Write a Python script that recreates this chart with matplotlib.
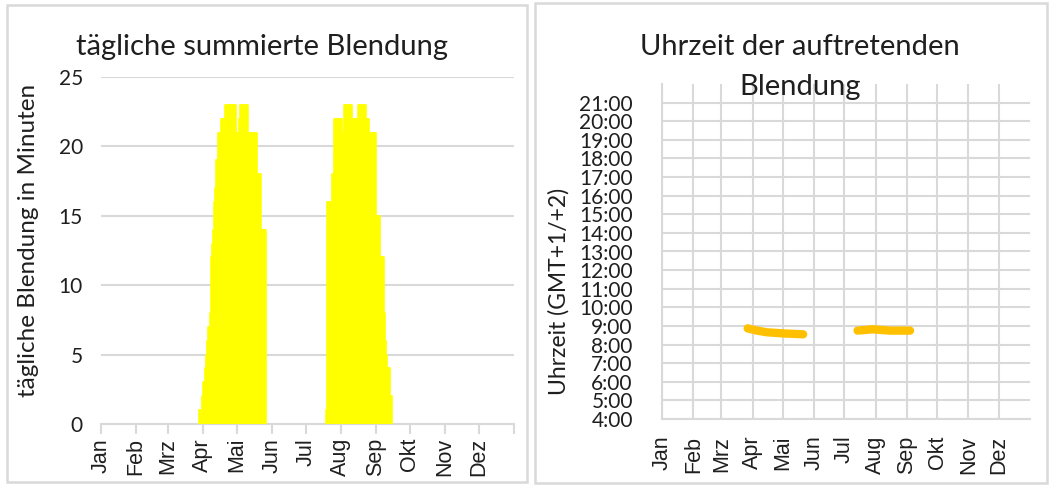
import numpy as np
import matplotlib
matplotlib.use("Agg")
import matplotlib.pyplot as plt
from matplotlib.patches import Rectangle

plt.rcParams['font.family'] = ['Lato', 'DejaVu Sans']

#%% Daten

MONATE = ['Jan', 'Feb', 'Mrz', 'Apr', 'Mai', 'Jun', 'Jul', 'Aug', 'Sep', 'Okt', 'Nov', 'Dez']
MONAT_START = [0, 31, 59, 90, 120, 151, 181, 212, 243, 273, 304, 334]

# taegliche Blendung in Minuten (Fruehjahr ab Tag 87, Spaetsommer ab Tag 199)
start_fruehjahr = 87
blendung_fruehjahr = [1, 1, 2, 3, 3, 4, 5, 6, 7, 8, 12, 13, 14, 16, 17, 19, 21, 21, 21, 22, 22, 22, 22,
                      23, 23, 23, 23, 23, 23, 23, 23, 23, 21, 21, 21, 22, 23, 23, 23, 23, 23, 23, 23,
                      20, 21, 21, 21, 21, 21, 21, 21, 18, 18, 18, 14, 14, 14, 14, 14]
start_sommer = 199
blendung_sommer = [1, 16, 16, 16, 16, 18, 18, 22, 22, 22, 22, 22, 22, 22, 21, 21,
                   23, 23, 23, 23, 23, 23, 23, 22, 22, 22, 22, 22, 23, 23, 23, 23, 23, 23, 23,
                   22, 22, 22, 21, 21, 21, 21, 21, 21, 15, 15, 15, 15, 12, 12, 12,
                   8, 6, 5, 4, 4, 2, 2]

# Uhrzeit der Blendung (Stunden)
tage_zeit_1 = [85, 94, 104, 120, 140]
uhrzeit_1 = [8.87, 8.75, 8.66, 8.60, 8.55]
tage_zeit_2 = [194, 209, 226, 246]
uhrzeit_2 = [8.75, 8.82, 8.75, 8.75]

STUNDEN = list(range(4, 22))

GRAU = '#D9D9D9'
TEXT = '#1f1f1f'
MONATS_FONT = ['Liberation Sans', 'DejaVu Sans']

#%% Figur

fig = plt.figure(figsize=(10.52, 4.86), dpi=100)
W, H = 1052, 486

# Rahmen der beiden Diagramme
fig.add_artist(Rectangle((7 / W, 1 - 482 / H), 520 / W, 477 / H, transform=fig.transFigure,
                         fill=False, edgecolor=GRAU, lw=1.8))
fig.add_artist(Rectangle((535 / W, 1 - 483 / H), 512 / W, 480 / H, transform=fig.transFigure,
                         fill=False, edgecolor=GRAU, lw=1.8))

#---------------- linkes Diagramm ----------------
ax1 = fig.add_axes([101 / W, 1 - 424 / H, 413 / W, 347 / H])

x1 = np.arange(start_fruehjahr, start_fruehjahr + len(blendung_fruehjahr))
x2 = np.arange(start_sommer, start_sommer + len(blendung_sommer))
for x, y in ((x1, blendung_fruehjahr), (x2, blendung_sommer)):
    ax1.bar(x, y, width=1.0, align='edge', color='#FFFF00', edgecolor='#FFFF00',
            linewidth=1.2, joinstyle='round', zorder=3)

ax1.set_xlim(0, 365)
ax1.set_ylim(0, 25)
ax1.set_yticks([0, 5, 10, 15, 20, 25])
ax1.grid(axis='y', color=GRAU, lw=1.5, zorder=0)
ax1.set_xticks(MONAT_START + [365])
ax1.set_xticklabels(MONATE + [''], rotation=90, family=MONATS_FONT)
for s in ('top', 'right', 'left'):
    ax1.spines[s].set_visible(False)
ax1.spines['bottom'].set_color(GRAU)
ax1.spines['bottom'].set_linewidth(1.5)
ax1.tick_params(axis='x', colors=GRAU, length=7, width=1.5, labelcolor=TEXT, labelsize=15.5, pad=3)
ax1.tick_params(axis='y', length=0, labelcolor=TEXT, labelsize=15, pad=13)
ax1.set_ylabel('tägliche Blendung in Minuten', fontsize=17.5, color=TEXT)
ax1.yaxis.set_label_coords(-0.15, 0.53)
fig.text(262 / W, 1 - 47 / H, 'tägliche summierte Blendung', ha='center', va='center',
         fontsize=21, color=TEXT)

#---------------- rechtes Diagramm ----------------
ax2 = fig.add_axes([662 / W, 1 - 419 / H, 368 / W, 335 / H])

for t, u in ((tage_zeit_1, uhrzeit_1), (tage_zeit_2, uhrzeit_2)):
    ax2.plot(t, u, color='#FFC000', lw=6, solid_capstyle='round', zorder=3)

ax2.set_xlim(0, 365)
ax2.set_ylim(4, 22)
ax2.set_yticks(STUNDEN)
ax2.set_yticklabels([f'{h}:00' for h in STUNDEN])
ax2.set_xticks(MONAT_START)
ax2.set_xticklabels(MONATE, rotation=90, family=MONATS_FONT)
ax2.grid(True, color=GRAU, lw=1.5, zorder=0)
for s in ('top', 'right'):
    ax2.spines[s].set_visible(False)
for s in ('left', 'bottom'):
    ax2.spines[s].set_color(GRAU)
    ax2.spines[s].set_linewidth(1.5)
ax2.tick_params(axis='both', length=0, labelcolor=TEXT)
ax2.tick_params(axis='x', pad=12, labelsize=15.5)
ax2.tick_params(axis='y', pad=21, labelsize=15)
ax2.set_ylabel('Uhrzeit (GMT+1/+2)', fontsize=16.5, color=TEXT)
ax2.yaxis.set_label_coords(-0.25, 0.38)
fig.text(800 / W, 1 - 47 / H, 'Uhrzeit der auftretenden', ha='center', va='center',
         fontsize=21, color=TEXT)
fig.text(800 / W, 1 - 87 / H, 'Blendung', ha='center', va='center',
         fontsize=21, color=TEXT)

fig.savefig('out.png', dpi=100)
